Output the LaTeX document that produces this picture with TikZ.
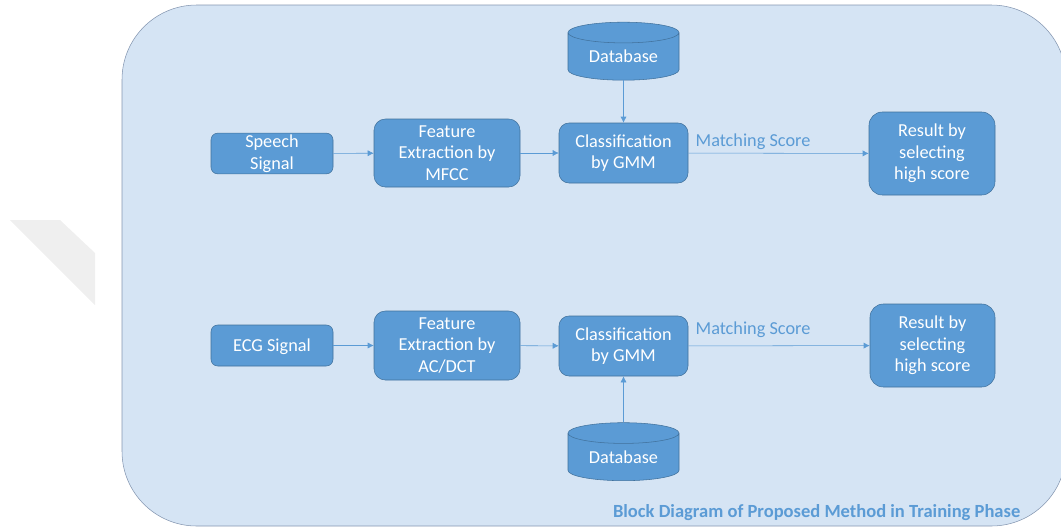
\documentclass[tikz,border=0pt]{standalone}
\usepackage{fontspec}
\setmainfont{Carlito}
\usetikzlibrary{arrows.meta,shapes.geometric}
\definecolor{boxblue}{HTML}{5B9BD5}
\definecolor{boxedge}{HTML}{41719C}
\definecolor{panelblue}{HTML}{D5E4F4}
\definecolor{paneledge}{HTML}{8496B0}
\definecolor{markgray}{HTML}{EFEFEF}
\tikzset{
	block/.style={draw=boxedge, fill=boxblue, text=white, align=center, font=\fontsize{13.7}{16.2}\selectfont, inner sep=0pt, execute at begin node={\rule{0pt}{12pt}}},
	base/.style={draw=boxedge, fill=boxblue, text=white, cylinder, shape border rotate=90, aspect=0.3, minimum width=83.25pt, minimum height=43.5pt, inner sep=0pt, font=\fontsize{13.7}{15}\selectfont},
	link/.style={draw=boxblue, -{Latex[length=4.5pt,width=4.5pt]}},
	score/.style={text=boxblue, font=\fontsize{13.7}{15}\selectfont}
}
\begin{document}
\begin{tikzpicture}[x=0.75pt, y=-0.75pt]
	\useasboundingbox (0, 0) rectangle (1061, 526);
	\fill [markgray] (10, 220) -- (60, 220) -- (95, 253) -- (95, 305) -- cycle;
	\draw [draw=paneledge, fill=panelblue, rounded corners=56pt] (122, 5) rectangle (1066, 526);
	
	\node [block, rounded corners=5pt, minimum width=91.5pt, minimum height=30.5pt] (speech) at (272, 153.5) {Speech \\ Signal};
	\node [block, rounded corners=8.5pt, minimum width=109.5pt, minimum height=51pt] (featureA) at (447, 153) {Feature \\ Extraction by \\ MFCC};
	\node [block, rounded corners=7.5pt, minimum width=96.75pt, minimum height=45pt] (classA) at (623.5, 153) {Classification \\ by GMM};
	\node [block, rounded corners=10pt, minimum width=94.5pt, minimum height=62.25pt] (resultA) at (932, 153.5) {Result by \\ selecting \\ high score};
	\node [base] (dbA) at (623.5, 56.5) {Database};
	\node [score] (scoreA) at (753, 142) {Matching Score};
	
	\node [block, rounded corners=5pt, minimum width=91.5pt, minimum height=30.75pt] (ecg) at (272, 345.5) {ECG Signal};
	\node [block, rounded corners=8.5pt, minimum width=109.5pt, minimum height=51.75pt] (featureB) at (447, 345.5) {Feature \\ Extraction by \\ AC/DCT};
	\node [block, rounded corners=7.5pt, minimum width=96.75pt, minimum height=45pt] (classB) at (623.5, 346) {Classification \\ by GMM};
	\node [block, rounded corners=10pt, minimum width=93.75pt, minimum height=62.25pt] (resultB) at (932.5, 345.5) {Result by \\ selecting \\ high score};
	\node [base] (dbB) at (623.5, 457) {Database};
	\node [score] (scoreB) at (753, 330) {Matching Score};
	
	\draw [link] (speech) -- (featureA);
	\draw [link] (featureA) -- (classA);
	\draw [link] (classA) -- (resultA);
	\draw [link] (dbA) -- (classA);
	
	\draw [link] (ecg) -- (featureB);
	\draw [link] (featureB) -- (classB);
	\draw [link] (classB) -- (resultB);
	\draw [link] (dbB) -- (classB);
	
	\node [anchor=east, text=boxblue, font=\fontsize{13.9}{15}\selectfont\bfseries] (caption) at (1025, 513) {Block Diagram of Proposed Method in Training Phase};
\end{tikzpicture}
\end{document}
